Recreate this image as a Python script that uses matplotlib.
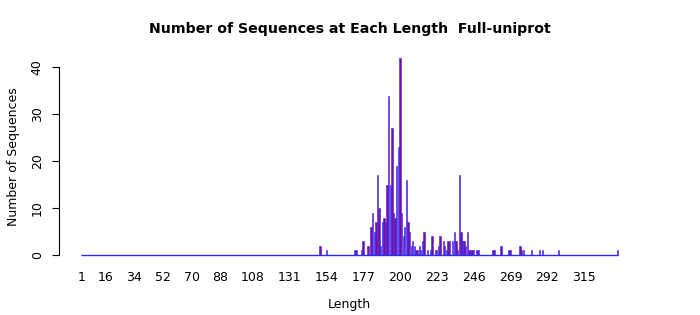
import numpy as np
import matplotlib
matplotlib.use('Agg')
import matplotlib.pyplot as pyp

# sequence lengths shown on the axis (every integer from 1 to the longest)
min_length = 1
max_length = 336

# lengths that have at least one sequence, and how many
nz_lengths = [150, 154, 172, 173, 176, 177, 180, 182, 183, 184, 185, 186, 187,
  188, 189, 190, 191, 192, 193, 194, 195, 196, 197, 198, 199, 200, 201, 202,
  203, 204, 205, 206, 207, 208, 209, 210, 211, 212, 213, 214, 215, 217, 219,
  220, 222, 223, 224, 225, 227, 228, 229, 230, 231, 233, 234, 235, 236, 237,
  238, 239, 240, 241, 242, 243, 244, 245, 246, 248, 249, 258, 259, 263, 268,
  269, 275, 276, 277, 282, 287, 289, 299, 336]
nz_counts = [2, 1, 1, 1, 1, 3, 2, 6, 9, 5, 7, 17, 10,
  2, 7, 8, 7, 15, 34, 15, 27, 9, 8, 19, 23, 42, 9, 4,
  6, 16, 7, 5, 2, 3, 2, 1, 1, 2, 1, 3, 5, 1, 1,
  4, 1, 1, 2, 4, 3, 2, 1, 3, 3, 3, 5, 3, 1, 17,
  5, 3, 3, 2, 5, 1, 1, 1, 1, 1, 1, 1, 1, 2, 1,
  1, 2, 1, 1, 1, 1, 1, 1, 1]

# labels that survive the overlap check on the x axis
tick_lengths = [1, 16, 34, 52, 70, 88, 108, 131, 154, 177, 200, 223, 246,
  269, 292, 315]

lengths = list(range(min_length, max_length + 1))
counts = dict(zip(nz_lengths, nz_counts))
heights = [counts.get(l, 0) for l in lengths]

fig = pyp.figure(figsize=(7, 3.15), dpi=100)
ax = fig.add_axes([0.0843, 0.165, 0.83, 0.676])

xpos = np.arange(len(lengths))
bar_w = 1 / 1.2
ax.bar(xpos, heights, width=bar_w, color='#8a0a8a', edgecolor='#2a2aff',
  linewidth=0.4, align='center')
# empty lengths still get a flat bar outline along zero
ax.hlines(0, xpos[0] - bar_w / 2, xpos[-1] + bar_w / 2, color='#2a2aff',
  linewidth=1.0, zorder=3)

span = (len(lengths) - 1) + bar_w
ax.set_xlim(-bar_w / 2 - 0.04 * span, len(lengths) - 1 + bar_w / 2 + 0.04 * span)
ymax = max(heights)
ax.set_ylim(-0.04 * ymax, ymax * 1.04)

ax.set_xticks([lengths.index(t) for t in tick_lengths])
ax.set_xticklabels([str(t) for t in tick_lengths], fontsize=9)
ax.tick_params(axis='x', length=0, pad=6)

ax.set_yticks([0, 10, 20, 30, 40])
ax.set_yticklabels(['0', '10', '20', '30', '40'], fontsize=9, rotation=90,
  va='center')
ax.tick_params(axis='y', length=5, direction='out', pad=6, width=0.8)

for s in ['top', 'right', 'bottom']:
  ax.spines[s].set_visible(False)
ax.spines['left'].set_bounds(0, 40)
ax.spines['left'].set_linewidth(0.8)

ax.set_xlabel('Length', fontsize=9, labelpad=10)
ax.set_ylabel('Number of Sequences', fontsize=9, labelpad=8)
ax.set_title('Number of Sequences at Each Length  Full-uniprot',
  fontsize=10.2, fontweight='bold', pad=12)

pyp.savefig('out.png', dpi=100)
pyp.close()
